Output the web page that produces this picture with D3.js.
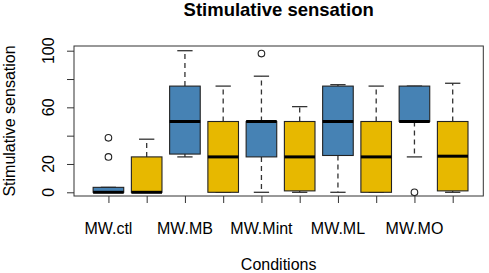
<!DOCTYPE html>
<html><head><meta charset="utf-8">
<script src="https://cdn.jsdelivr.net/npm/d3@7"></script>
<style>body{margin:0;background:#fff}svg{display:block}text{font-family:"Liberation Sans",Arial,sans-serif;fill:#000}</style>
</head><body><svg id="c" width="489" height="273"></svg>
<script>
const positions   = [1,2,3,4,5,6,7,8,9,10];
const xTickLabels = ["MW.ctl","","MW.MB","","MW.Mint","","MW.ML","","MW.MO",""];
const fills       = ["blue","yellow","blue","yellow","blue","yellow","blue","yellow","blue","yellow"];
const lowWhisker  = [0,   0,   25, 0,  0,  0,  0,  0,  25, 0];
const q1          = [0,   0,   27, 0,  25, 1,  26, 0,  50, 1];
const medians     = [0,   0,   50, 25, 50, 25, 50, 25, 50, 25.5];
const q3          = [3.5, 25,  75, 50, 50, 50, 75, 50, 75, 50];
const highWhisker = [3.5, 37.5,100,75, 82, 60.5,76, 75, 75, 77];
const outliers    = [[25,38.5],[],[],[],[98],[],[],[],[0],[]];
const yTicks      = [0,20,40,60,80,100];
const yTickLabels = ["0","20","","60","","100"];
const colorMap = {blue:"#4682B4", yellow:"#E7B800"};

const svg = d3.select("#c");
const L=74, R=483.3, T=46, B=196;
const x = d3.scaleLinear().domain([0.1,10.8]).range([L,R]);
const y = d3.scaleLinear().domain([0,100]).range([192.3,50.7]);
const bw = (x(2)-x(1))*0.8;

// title
svg.append("text").attr("x",(L+R)/2).attr("y",16).attr("text-anchor","middle")
  .style("font-size","18.5px").style("font-weight","bold").text("Stimulative sensation");

// boxes
positions.forEach((p,i)=>{
  const cx = x(p), g = svg.append("g");
  const dash = "5,4";
  g.append("line").attr("x1",cx).attr("x2",cx).attr("y1",y(q3[i])).attr("y2",y(highWhisker[i]))
    .attr("stroke","#333").attr("stroke-width",1.3).attr("stroke-dasharray",dash);
  g.append("line").attr("x1",cx).attr("x2",cx).attr("y1",y(q1[i])).attr("y2",y(lowWhisker[i]))
    .attr("stroke","#333").attr("stroke-width",1.3).attr("stroke-dasharray",dash);
  [highWhisker[i],lowWhisker[i]].forEach(v=>{
    g.append("line").attr("x1",cx-bw/4).attr("x2",cx+bw/4).attr("y1",y(v)).attr("y2",y(v))
      .attr("stroke","#333").attr("stroke-width",1.3);
  });
  g.append("rect").attr("x",cx-bw/2).attr("width",bw)
    .attr("y",y(q3[i])).attr("height",Math.max(y(q1[i])-y(q3[i]),0.5))
    .attr("fill",colorMap[fills[i]]).attr("stroke","#222").attr("stroke-width",1.1);
  g.append("line").attr("x1",cx-bw/2).attr("x2",cx+bw/2).attr("y1",y(medians[i])).attr("y2",y(medians[i]))
    .attr("stroke","#000").attr("stroke-width",3);
  outliers[i].forEach(v=>{
    g.append("circle").attr("cx",cx).attr("cy",y(v)).attr("r",3.3)
      .attr("fill","none").attr("stroke","#222").attr("stroke-width",1.1);
  });
});

// frame
svg.append("rect").attr("x",L).attr("y",T).attr("width",R-L).attr("height",B-T)
  .attr("fill","none").attr("stroke","#333").attr("stroke-width",1);

// y axis
const ya = svg.append("g").attr("transform",`translate(${L},0)`)
  .call(d3.axisLeft(y).tickValues(yTicks).tickSize(7).tickFormat(()=>""));
ya.select(".domain").remove();
ya.selectAll("line").attr("stroke","#333");
yTicks.forEach((t,i)=>{
  if(!yTickLabels[i]) return;
  svg.append("text").attr("transform",`translate(53.5,${y(t)}) rotate(-90)`)
    .attr("text-anchor","middle").style("font-size","16px").text(yTickLabels[i]);
});

// x axis
const xa = svg.append("g").attr("transform",`translate(0,${B})`)
  .call(d3.axisBottom(x).tickValues(positions).tickSize(7).tickFormat(()=>""));
xa.select(".domain").remove();
xa.selectAll("line").attr("stroke","#333");
positions.forEach((p,i)=>{
  if(!xTickLabels[i]) return;
  svg.append("text").attr("x",x(p)).attr("y",233.5).attr("text-anchor","middle")
    .style("font-size","16px").text(xTickLabels[i]);
});

// axis titles
svg.append("text").attr("x",(L+R)/2).attr("y",270).attr("text-anchor","middle")
  .style("font-size","16px").text("Conditions");
svg.append("text").attr("transform",`translate(15,${(T+B)/2}) rotate(-90)`)
  .attr("text-anchor","middle").style("font-size","16px").text("Stimulative sensation");
</script></body></html>
